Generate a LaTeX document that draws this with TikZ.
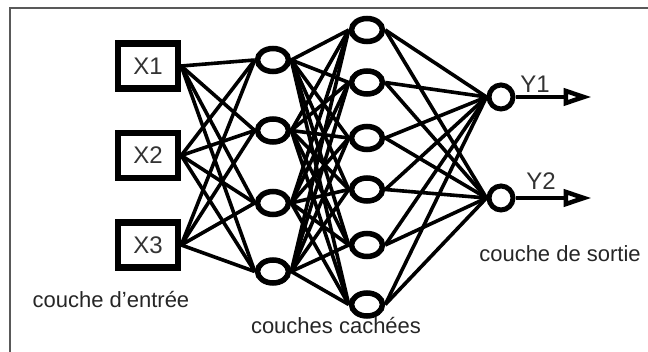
\documentclass[tikz,border=0pt]{standalone}
\usepackage{fontspec}
\setmainfont{Liberation Sans}
\usetikzlibrary {arrows.meta,
                 positioning,
                 shapes.geometric}
\tikzset{
    inbox/.style={draw, rectangle, line width=6.5pt, minimum width=60pt,
                  minimum height=45pt, inner sep=0pt,
                  font=\fontsize{24}{28}\selectfont, text=black!80},
        neuron/.style={draw, ellipse, line width=5.5pt, minimum width=31pt,
                       minimum height=23pt, inner sep=0pt},
        outneuron/.style={draw, circle, line width=5pt, minimum size=24pt,
                          inner sep=0pt},
        link/.style={line width=3.6pt},
        outarrow/.style={-{Triangle[open, length=28pt, width=17pt]}, line width=4.5pt},
        ylabel/.style={font=\fontsize{24}{28}\selectfont, text=black!80},
        caption/.style={font=\fontsize{22}{26}\selectfont, text=black!85},
        frame/.style={draw=black!65, line width=2pt},
 }
\begin{document}
\begin{tikzpicture}[x=1pt, y=1pt]

    \useasboundingbox (0,0) rectangle (648,-352);
    \draw[frame] (648,-8) -- (10,-8) -- (10,-352);

    % couche d'entree
    \node[inbox] (x1) at (148,-66) {X1};
    \node[inbox, below=38pt of x1] (x2) {X2};
    \node[inbox, below=38pt of x2] (x3) {X3};

    % couches cachees
    \node[neuron] (h11) at (273,-60) {};
    \node[neuron, below=42pt of h11] (h12) {};
    \node[neuron, below=44pt of h12] (h13) {};
    \node[neuron, below=40pt of h13] (h14) {};

    \node[neuron] (h21) at (367,-30) {};
    \node[neuron, below=24pt of h21] (h22) {};
    \node[neuron, below=27pt of h22] (h23) {};
    \node[neuron, below=23pt of h23] (h24) {};
    \node[neuron, below=27pt of h24] (h25) {};
    \node[neuron, below=31pt of h25] (h26) {};

    % couche de sortie
    \node[outneuron] (y1) at (501,-97) {};
    \node[outneuron, below=72pt of y1] (y2) {};

    \foreach \i in {1,2,3}
        \foreach \j in {1,...,4}
            \draw[link] (x\i.east) -- (h1\j.west);
    \foreach \i in {1,...,4}
        \foreach \j in {1,...,6}
            \draw[link] (h1\i.east) -- (h2\j.west);
    \foreach \i in {1,...,6}
        \foreach \j in {1,2}
            \draw[link] (h2\i.east) -- (y\j.west);

    \coordinate[right=76pt of y1.east] (o1);
    \coordinate[right=76pt of y2.east] (o2);
    \draw[outarrow] (y1.east) -- (o1);
    \draw[outarrow] (y2.east) -- (o2);

    \node[ylabel] (l1) at (535,-84) {Y1};
    \node[ylabel] (l2) at (541,-181) {Y2};

    \node[caption] (c1) at (111,-300) {couche d'entrée};
    \node[caption] (c2) at (336,-326) {couches cachées};
    \node[caption] (c3) at (560,-254) {couche de sortie};

\end{tikzpicture}
\end{document}
